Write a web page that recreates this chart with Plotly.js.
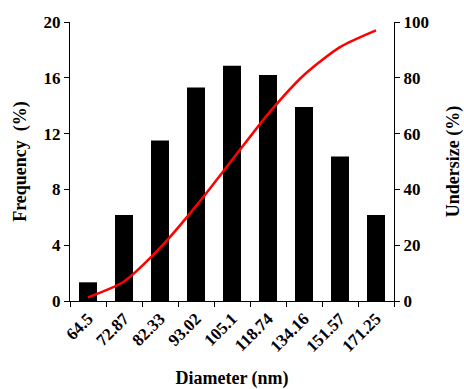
<!DOCTYPE html>
<html><head><meta charset="utf-8">
<script src="https://cdn.plot.ly/plotly-3.0.1.min.js"></script>
<style>html,body{margin:0;padding:0;background:#fff}#chart{width:464px;height:389px}</style>
</head><body><div id="chart"></div>
<script>
const diameters = ["64.5","72.87","82.33","93.02","105.1","118.74","134.16","151.57","171.25"];
const frequency = [1.34, 6.16, 11.5, 15.3, 16.87, 16.2, 13.9, 10.35, 6.16];
const undersize = [1.3, 7.0, 19, 34, 50.5, 67, 81, 91, 97];
const leftTicks = [0, 4, 8, 12, 16, 20];
const rightTicks = [0, 20, 40, 60, 80, 100];

const font = {family: "Liberation Serif, Times New Roman, serif", color: "#000"};
const tf = Object.assign({size: 17, weight: "bold"}, font);
const ttl = Object.assign({size: 18, weight: "bold"}, font);
const data = [
  {type: "bar", x: diameters, y: frequency, marker: {color: "#000"}, yaxis: "y", hoverinfo: "none"},
  {type: "scatter", mode: "lines", x: diameters, y: undersize, yaxis: "y2",
   line: {color: "#ff0000", width: 2.5, shape: "spline", smoothing: 0.7}, hoverinfo: "none"}
];
const layout = {
  width: 464, height: 389,
  margin: {l: 70, r: 70, t: 22, b: 88},
  paper_bgcolor: "#fff", plot_bgcolor: "#fff",
  showlegend: false,
  bargap: 0.5,
  font: tf,
  xaxis: {
    type: "category", tickangle: -45, tickson: "boundaries",
    ticks: "outside", ticklen: 5, tickcolor: "#000", tickwidth: 1,
    showline: true, linecolor: "#000", linewidth: 1, showgrid: false, zeroline: false,
    tickfont: tf,
    title: {text: "Diameter (nm)", font: ttl, standoff: 16}
  },
  yaxis: {
    range: [0, 20], tickvals: leftTicks, ticks: "outside", ticklen: 5, tickcolor: "#000",
    showline: true, linecolor: "#000", linewidth: 1, showgrid: false, zeroline: false,
    tickfont: tf,
    title: {text: "Frequency\u00a0 (%)", font: ttl, standoff: 12}
  },
  yaxis2: {
    range: [0, 100], tickvals: rightTicks, overlaying: "y", side: "right",
    ticks: "outside", ticklen: 5, tickcolor: "#000",
    showline: true, linecolor: "#000", linewidth: 1, showgrid: false, zeroline: false,
    tickfont: tf,
    title: {text: "Undersize (%)", font: ttl, standoff: 18}
  }
};
Plotly.newPlot("chart", data, layout, {staticPlot: true, displayModeBar: false});
</script></body></html>
